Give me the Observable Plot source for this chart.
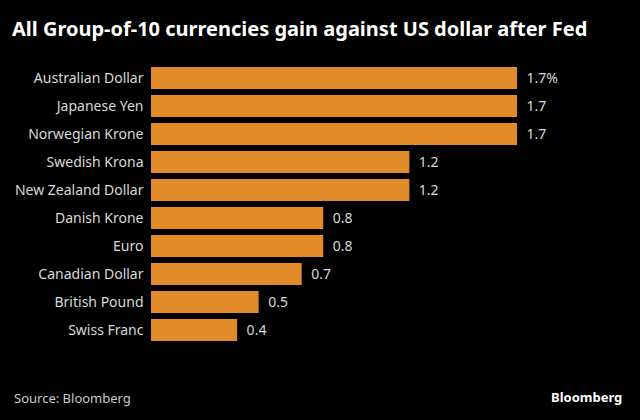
<!DOCTYPE html>
<html><head><meta charset="utf-8">
<script src="https://cdn.jsdelivr.net/npm/d3@7"></script>
<script src="https://cdn.jsdelivr.net/npm/@observablehq/plot@0.6"></script>
<style>
html,body{margin:0;padding:0;background:#000;}
#wrap{position:relative;width:640px;height:420px;background:#000;overflow:hidden;font-family:"Noto Sans",sans-serif;}
#title{position:absolute;left:12px;top:15px;color:#fff;font-weight:bold;font-size:20px;white-space:nowrap;}
#chart{position:absolute;left:0;top:50px;}
#source{position:absolute;left:14px;top:389px;color:#c8c8c8;font-size:13px;}
#logo{position:absolute;left:551px;top:388px;color:#fff;font-weight:bold;font-size:13px;}
</style>
</head><body>
<div id="wrap">
<div id="title">All Group-of-10 currencies gain against US dollar after Fed</div>
<div id="chart"></div>
<div id="source">Source: Bloomberg</div>
<div id="logo">Bloomberg</div>
</div>
<script>
const currencies = ["Australian Dollar","Japanese Yen","Norwegian Krone","Swedish Krona","New Zealand Dollar","Danish Krone","Euro","Canadian Dollar","British Pound","Swiss Franc"];
const changes = [1.7,1.7,1.7,1.2,1.2,0.8,0.8,0.7,0.5,0.4];
const valueLabels = ["1.7%","1.7","1.7","1.2","1.2","0.8","0.8","0.7","0.5","0.4"];
const data = currencies.map((c,i)=>({name:c,value:changes[i],label:valueLabels[i]}));
const font = '"Noto Sans", sans-serif';
const chart = Plot.plot({
  width:640, height:320,
  marginLeft:151, marginRight:58.4, marginTop:8.8, marginBottom:20.5,
  x:{domain:[0,2], axis:null},
  y:{domain:currencies, padding:0.2, axis:null},
  style:{background:"#000", color:"#d8d8d8", fontFamily:font, fontSize:"14px"},
  marks:[
    Plot.barX(data,{x:"value", y:"name", fill:"#e08a2a"}),
    Plot.axisY({tickSize:0, tickPadding:8, fontSize:14, fill:"#d8d8d8", label:null}),
    Plot.text(data,{x:"value", y:"name", text:"label", dx:9, textAnchor:"start", fill:"#d8d8d8", fontSize:14})
  ]
});
document.getElementById("chart").appendChild(chart);
</script>
</body></html>
